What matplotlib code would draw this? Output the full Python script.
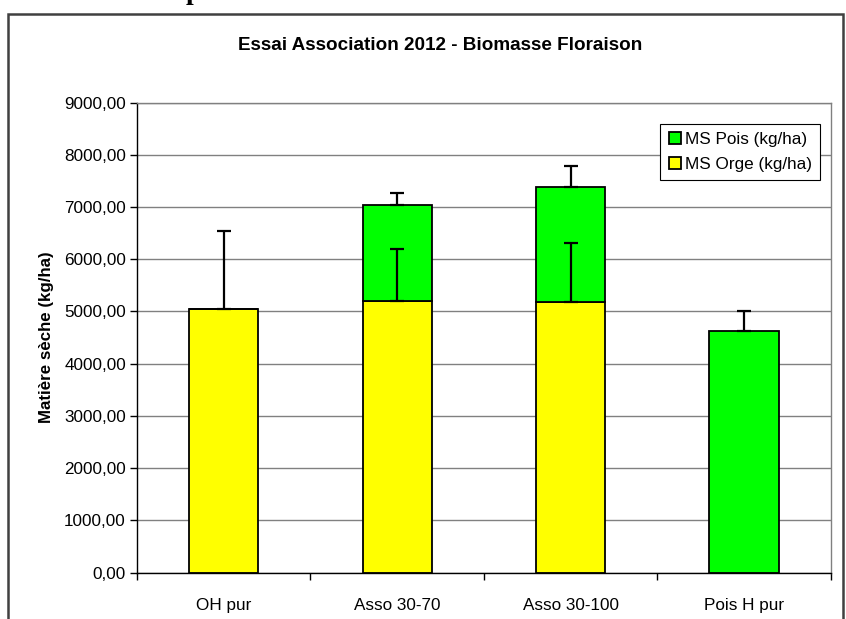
import numpy as np
import matplotlib.pyplot as plt
from matplotlib.patches import Rectangle
from matplotlib.ticker import FuncFormatter

# ---------------------- DATA ----------------------
categories = ["OH pur", "Asso 30-70", "Asso 30-100", "Pois H pur"]
ms_orge = [5040, 5196, 5172, 0]        # kg/ha
ms_pois = [0, 1832, 2203, 4634]        # kg/ha, stacked on top of orge
err_orge = [1505, 1003, 1134, 0]       # upper error only
err_pois = [0, 238, 402, 372]
y_ticks = [0, 1000, 2000, 3000, 4000, 5000, 6000, 7000, 8000, 9000]
# ---------------------------------------------------

YELLOW = "#FFFF00"
GREEN = "#00FF00"

plt.rcParams["font.family"] = ["Liberation Sans", "DejaVu Sans"]

fig = plt.figure(figsize=(8.46, 6.19), dpi=100)
ax = fig.add_axes([0.162, 0.0751, 0.820, 0.7593])

x = np.arange(len(categories))
width = 0.4
orge = np.array(ms_orge, dtype=float)
pois = np.array(ms_pois, dtype=float)

ax.bar(x, orge, width, color=YELLOW, edgecolor="black", linewidth=1.3,
       label="MS Orge (kg/ha)", zorder=2)
ax.bar(x, pois, width, bottom=orge, color=GREEN, edgecolor="black", linewidth=1.3,
       label="MS Pois (kg/ha)", zorder=2)

# plus-only error bars, skipped where a series is empty
for i in range(len(categories)):
    if orge[i] > 0 and err_orge[i] > 0:
        ax.errorbar(x[i], orge[i], yerr=[[0], [err_orge[i]]], fmt="none",
                    ecolor="black", elinewidth=1.6, capsize=5, capthick=1.6, zorder=3)
    if pois[i] > 0 and err_pois[i] > 0:
        ax.errorbar(x[i], orge[i] + pois[i], yerr=[[0], [err_pois[i]]], fmt="none",
                    ecolor="black", elinewidth=1.6, capsize=5, capthick=1.6, zorder=3)

ax.set_ylim(0, 9000)
ax.set_xlim(-0.5, len(categories) - 0.5)
ax.set_yticks(y_ticks)
ax.yaxis.set_major_formatter(FuncFormatter(lambda v, p: f"{v:.2f}".replace(".", ",")))
ax.grid(axis="y", color="#808080", linewidth=1.0, zorder=0)
ax.set_axisbelow(True)

# categories labelled at centres, tick marks between categories
ax.set_xticks(x)
ax.set_xticklabels(categories)
ax.tick_params(axis="x", which="major", length=0, pad=18, labelsize=12.3)
ax.set_xticks(np.arange(-0.5, len(categories)), minor=True)
ax.tick_params(axis="x", which="minor", length=5, width=1, direction="out", color="black")
ax.tick_params(axis="y", length=5, width=1, direction="out", labelsize=12.3, pad=3)

for side in ["top", "right"]:
    ax.spines[side].set_color("#808080")
    ax.spines[side].set_linewidth(1.0)
ax.spines["left"].set_color("black")
ax.spines["bottom"].set_color("black")
ax.spines["left"].set_linewidth(1.0)
ax.spines["bottom"].set_linewidth(1.0)

ax.set_ylabel("Matière sèche (kg/ha)", fontsize=12.2, fontweight="bold", labelpad=7)

handles, labels = ax.get_legend_handles_labels()
leg = ax.legend(handles[::-1], labels[::-1], loc="upper left",
                bbox_to_anchor=(0.754, 0.955), fontsize=12.3, frameon=True,
                fancybox=False, edgecolor="black", framealpha=1,
                handlelength=0.7, handleheight=0.7, handletextpad=0.25,
                borderpad=0.5, labelspacing=0.55, borderaxespad=0)
leg.get_frame().set_linewidth(0.8)

fig.text(0.52, 1 - 45 / 619, "Essai Association 2012 - Biomasse Floraison",
         ha="center", va="center", fontsize=13.6, fontweight="bold")

# chart area border (cut at the bottom of the picture)
frame = Rectangle((8 / 846, -0.05), (843 - 8) / 846, 1 - 14 / 619 + 0.05,
                  transform=fig.transFigure, fill=False, edgecolor="#404040",
                  linewidth=1.8, clip_on=False)
fig.patches.append(frame)

# piece of the document heading cut off above the chart
fig.text(186 / 846, 1 + 1 / 619, "p", ha="left", va="baseline", fontsize=20,
         fontweight="bold", family=["Liberation Serif", "DejaVu Serif"])

fig.savefig("out.png", dpi=100)
